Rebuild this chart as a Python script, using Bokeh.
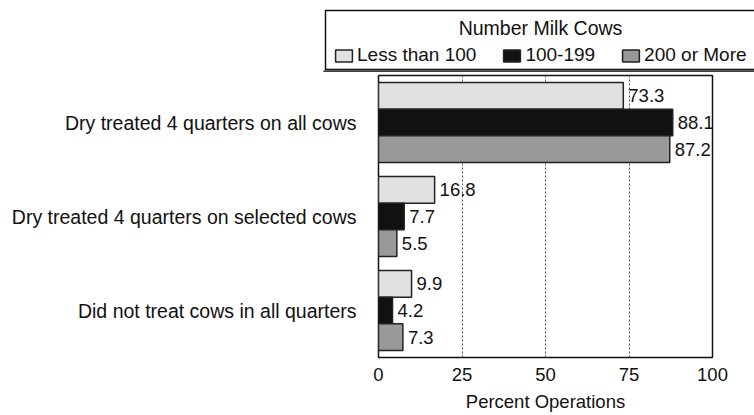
from bokeh.plotting import figure
from bokeh.layouts import column
from bokeh.models import ColumnDataSource, FactorRange, Legend, LegendItem, Label, BoxAnnotation, FixedTicker
from bokeh.transform import dodge
from bokeh.core.properties import value
from bokeh.embed import file_html
from bokeh.resources import INLINE

categories = ["Dry treated 4 quarters on all cows",
              "Dry treated 4 quarters on selected cows",
              "Did not treat cows in all quarters"]
series_names = ["Less than 100", "100-199", "200 or More"]
less_than_100 = [73.3, 16.8, 9.9]
from_100_to_199 = [88.1, 7.7, 4.2]
at_least_200 = [87.2, 5.5, 7.3]
x_ticks = [0, 25, 50, 75, 100]
legend_title = "Number Milk Cows"
axis_title = "Percent Operations"

colors = ["#e1e1e1", "#111111", "#999999"]
offsets = [0.284, 0.0, -0.284]
FONT = "Liberation Sans"
TXT = "#111111"
EDGE = "#222222"

# ---------------- main chart ----------------
p = figure(width=754, height=342,
           y_range=FactorRange(factors=categories[::-1]),
           x_range=(0, 100),
           output_backend="svg", toolbar_location=None,
           min_border_left=378, min_border_right=42,
           min_border_top=2, min_border_bottom=58)
p.frame_align = False

for name, vals, col, off in zip(series_names, [less_than_100, from_100_to_199, at_least_200], colors, offsets):
    src = ColumnDataSource(dict(cat=categories, val=vals, lbl=[f"{v:.1f}" for v in vals]))
    p.hbar(y=dodge("cat", off, range=p.y_range), right="val", left=0, height=0.284,
           source=src, fill_color=col, line_color=EDGE, line_width=1.5)
    p.text(x="val", y=dodge("cat", off, range=p.y_range), text="lbl", source=src,
           x_offset=5, text_baseline="middle", text_align="left",
           text_font=value(FONT), text_font_size="18.5px", text_color=TXT)

p.xaxis.ticker = FixedTicker(ticks=x_ticks)
p.xaxis.axis_line_color = None
p.xaxis.major_tick_line_color = None
p.xaxis.minor_tick_line_color = None
p.xaxis.major_tick_out = 0
p.xaxis.major_label_standoff = 10
p.xaxis.major_label_text_font = FONT
p.xaxis.major_label_text_font_size = "18.5px"
p.xaxis.major_label_text_color = TXT
p.xaxis.axis_label = axis_title
p.xaxis.axis_label_standoff = 7
p.xaxis.axis_label_text_font = FONT
p.xaxis.axis_label_text_font_size = "18.5px"
p.xaxis.axis_label_text_font_style = "normal"
p.xaxis.axis_label_text_color = TXT

p.yaxis.axis_line_color = None
p.yaxis.major_tick_line_color = None
p.yaxis.minor_tick_line_color = None
p.yaxis.major_tick_out = 0
p.yaxis.major_label_standoff = 22
p.yaxis.major_label_text_font = FONT
p.yaxis.major_label_text_font_size = "19.5px"
p.yaxis.major_label_text_color = TXT

p.ygrid.grid_line_color = None
p.xgrid.grid_line_color = "#555555"
p.xgrid.grid_line_dash = "2 2"
p.xgrid.grid_line_width = 1

p.outline_line_color = TXT
p.outline_line_width = 1.5

# ---------------- legend strip ----------------
lg = figure(width=754, height=73, x_range=(0, 1), y_range=(0, 1),
            output_backend="svg", toolbar_location=None,
            x_axis_location=None, y_axis_location=None,
            min_border_left=323, min_border_right=0,
            min_border_top=8, min_border_bottom=2)
lg.frame_align = False
lg.grid.visible = False
lg.outline_line_color = None

items = []
for name, col in zip(series_names, colors):
    # swatch renderer kept outside the visible range; it only feeds the legend
    r = lg.hbar(y=[-5], right=[1], left=[0], height=0.5,
                fill_color=col, line_color=EDGE, line_width=1.5)
    items.append(LegendItem(label=name, renderers=[r]))

box = BoxAnnotation(left=2, right=600, top=61, bottom=2,
                    left_units="screen", right_units="screen",
                    top_units="screen", bottom_units="screen",
                    fill_color="white", fill_alpha=1.0,
                    line_color=TXT, line_alpha=1.0, line_width=1.5)
lg.add_layout(box)
lg.add_layout(Label(x=217, y=44, x_units="screen", y_units="screen",
                    text=legend_title, text_align="center", text_baseline="alphabetic",
                    text_font=FONT, text_font_size="19.5px", text_color=TXT))

legend = Legend(items=items, orientation="horizontal", location=(10, 5),
                padding=0, spacing=25, label_standoff=3, glyph_width=21, glyph_height=15,
                label_text_font=FONT, label_text_font_size="19px", label_text_color=TXT,
                border_line_color=None, background_fill_alpha=0)
lg.add_layout(legend, "center")

layout = column(lg, p, spacing=0)
open("out.html", "w").write(file_html(layout, INLINE))
